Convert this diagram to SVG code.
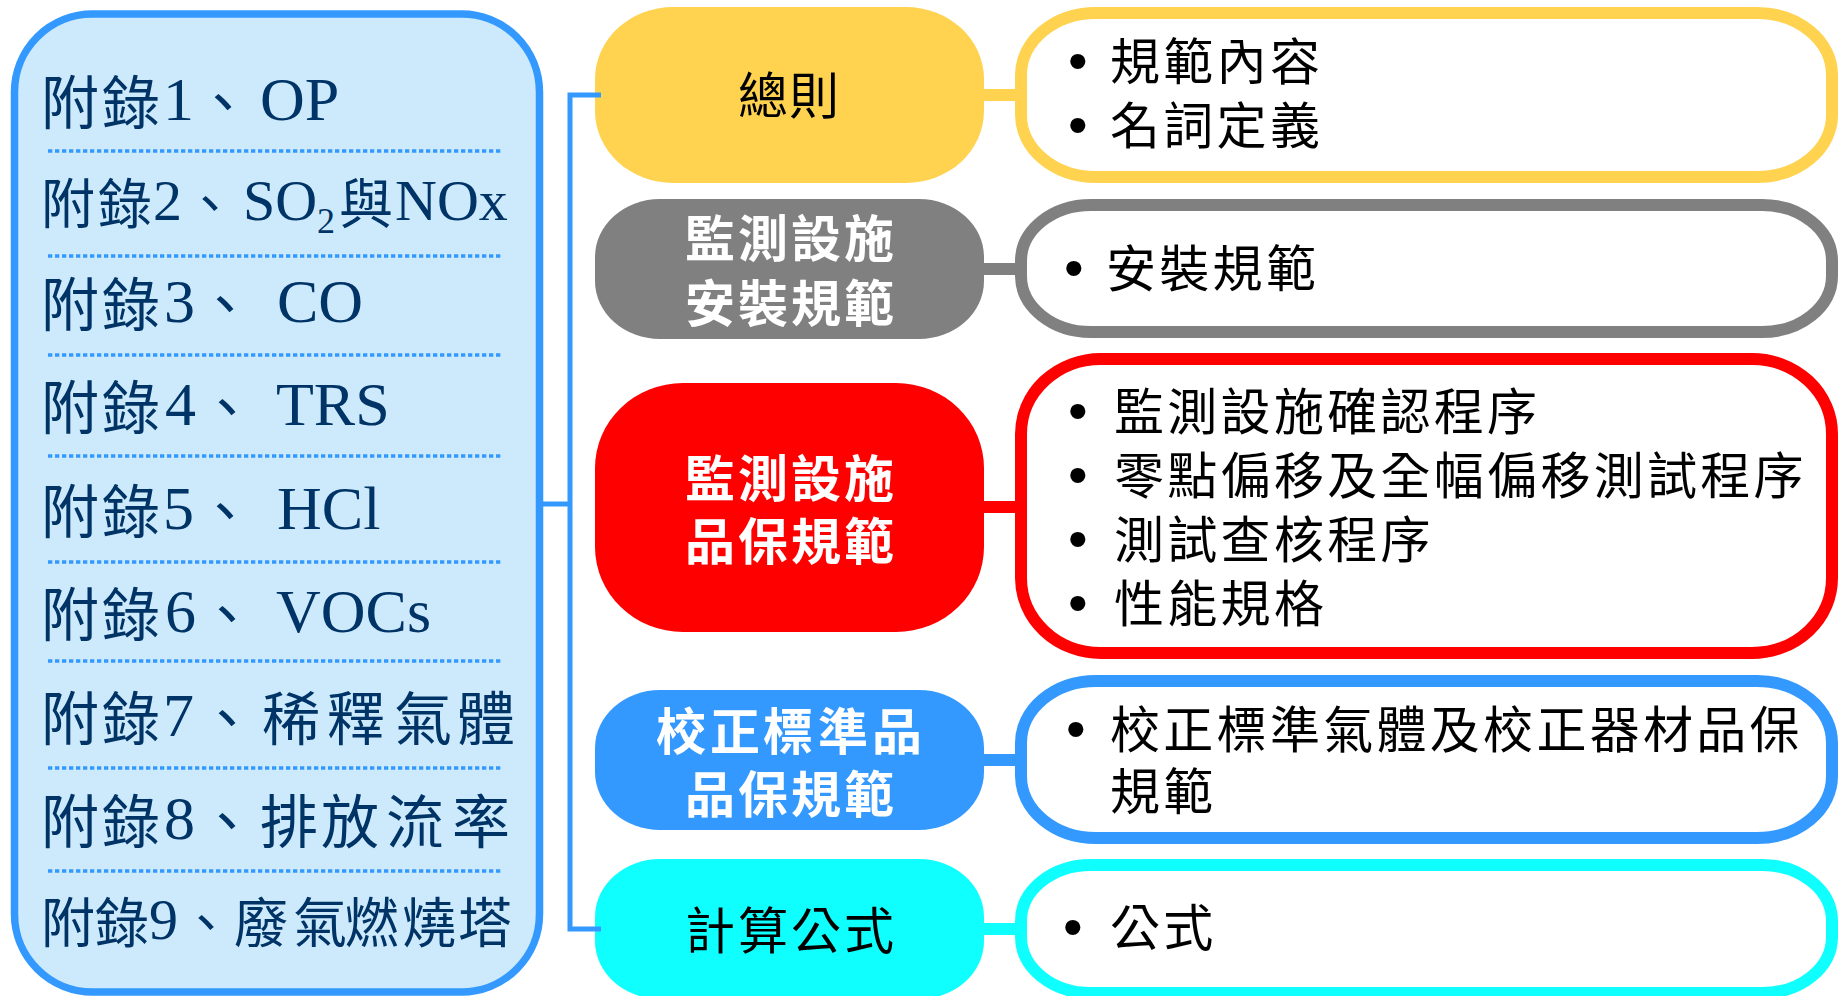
<svg xmlns="http://www.w3.org/2000/svg" width="1839" height="996" viewBox="0 0 1839 996">
<style>
.ap{font-family:"Liberation Serif","Noto Sans CJK TC",serif;font-size:58px;fill:#003366}
.c54{font-size:54px}
.lat{font-size:62px}
.l58{font-size:58px}
.sub{font-size:36px}
.pw{font-family:"Liberation Sans","Noto Sans CJK TC",sans-serif;font-size:50px;font-weight:700;fill:#ffffff}
.pb{font-family:"Liberation Sans","Noto Sans CJK TC",sans-serif;font-size:50px;font-weight:400;fill:#000000}
.rt{font-family:"Liberation Sans","Noto Sans CJK TC",sans-serif;font-size:50px;fill:#000000}
.ls{letter-spacing:3.3px}
.bl{font-family:"Liberation Sans",sans-serif;font-size:56px}
.dot{stroke:#3399FF;stroke-width:3.5;stroke-dasharray:4.3 2.7;fill:none}
.box{fill:#ffffff;stroke-width:12}
</style>

<g id="appendix-panel">
  <rect x="14.5" y="14" width="525" height="978" rx="78" ry="78" fill="#CCEAFC" stroke="#3399FF" stroke-width="7.5"/>
  <line class="dot" x1="48" y1="151" x2="502" y2="151"/>
  <line class="dot" x1="48" y1="256" x2="502" y2="256"/>
  <line class="dot" x1="48" y1="355" x2="502" y2="355"/>
  <line class="dot" x1="48" y1="456" x2="502" y2="456"/>
  <line class="dot" x1="48" y1="562" x2="502" y2="562"/>
  <line class="dot" x1="48" y1="661" x2="502" y2="661"/>
  <line class="dot" x1="48" y1="768" x2="502" y2="768"/>
  <line class="dot" x1="48" y1="871" x2="502" y2="871"/>
  <text class="ap" y="124"><tspan x="41 102">附錄</tspan><tspan class="lat" x="163" y="120">1</tspan><tspan x="194" y="124">、</tspan><tspan class="lat" x="260" y="120">OP</tspan></text>
  <text class="ap c54" y="224"><tspan x="41 98">附錄</tspan><tspan class="l58" x="153" y="220">2</tspan><tspan x="183" y="224">、</tspan><tspan class="l58" x="243" y="220">SO</tspan><tspan class="sub" x="317" y="233">2</tspan><tspan x="339" y="224">與</tspan><tspan class="l58" x="395" y="220">NOx</tspan></text>
  <text class="ap" y="326"><tspan x="41 102">附錄</tspan><tspan class="lat" x="164" y="322">3</tspan><tspan x="196" y="326">、 </tspan><tspan class="lat" x="277" y="322">CO</tspan></text>
  <text class="ap" y="429"><tspan x="41 102">附錄</tspan><tspan class="lat" x="165" y="425">4</tspan><tspan x="198" y="429">、 </tspan><tspan class="lat" x="276" y="425">TRS</tspan></text>
  <text class="ap" y="533"><tspan x="41 102">附錄</tspan><tspan class="lat" x="163" y="529">5</tspan><tspan x="196" y="533">、 </tspan><tspan class="lat" x="277" y="529">HCl</tspan></text>
  <text class="ap" y="636"><tspan x="41 102">附錄</tspan><tspan class="lat" x="165" y="632">6</tspan><tspan x="198" y="636">、 </tspan><tspan class="lat" x="276" y="632">VOCs</tspan></text>
  <text class="ap" y="740"><tspan x="41 102">附錄</tspan><tspan class="lat" x="163" y="736">7</tspan><tspan x="198" y="740">、</tspan><tspan x="262 327 394 457">稀釋氣體</tspan></text>
  <text class="ap" y="843"><tspan x="41 102">附錄</tspan><tspan class="lat" x="164" y="839">8</tspan><tspan x="198" y="843">、</tspan><tspan x="260 321 386 452">排放流率</tspan></text>
  <text class="ap c54" y="943"><tspan x="41 95">附錄</tspan><tspan class="l58" x="149" y="939">9</tspan><tspan x="179" y="943">、</tspan><tspan x="234 293 345 402 458">廢氣燃燒塔</tspan></text>
</g>

<g id="general">
  <rect x="595" y="7" width="389" height="176" rx="78" ry="72" fill="#FFD350"/>
  <text class="pb" y="114"><tspan x="738 789">總則</tspan></text>
</g>
<g id="general-detail">
  <rect class="box" x="1021" y="13" width="811" height="164" rx="75" ry="62" stroke="#FFD350"/>
  <text class="rt" y="80"><tspan class="bl" x="1068">•</tspan><tspan class="ls" x="1110">規範內容</tspan></text>
  <text class="rt" y="144"><tspan class="bl" x="1068">•</tspan><tspan class="ls" x="1110">名詞定義</tspan></text>
</g>

<g id="install">
  <rect x="595" y="199" width="389" height="140" rx="65" ry="58" fill="#808080"/>
  <text class="pw" y="257"><tspan x="685 738 791 844">監測設施</tspan></text>
  <text class="pw" y="322"><tspan x="685 738 791 844">安裝規範</tspan></text>
</g>
<g id="install-detail">
  <rect class="box" x="1021" y="205" width="811" height="127" rx="70" ry="56" stroke="#808080"/>
  <text class="rt" y="287"><tspan class="bl" x="1064">•</tspan><tspan class="ls" x="1106">安裝規範</tspan></text>
</g>

<g id="qa">
  <rect x="595" y="383" width="389" height="249" rx="88" ry="85" fill="#FF0000"/>
  <text class="pw" y="497"><tspan x="685 738 791 844">監測設施</tspan></text>
  <text class="pw" y="560"><tspan x="685 738 791 844">品保規範</tspan></text>
</g>
<g id="qa-detail">
  <rect class="box" x="1021" y="359" width="811" height="294" rx="80" ry="75" stroke="#FF0000"/>
  <text class="rt" y="430"><tspan class="bl" x="1068">•</tspan><tspan class="ls" x="1114">監測設施確認程序</tspan></text>
  <text class="rt" y="494"><tspan class="bl" x="1068">•</tspan><tspan class="ls" x="1114">零點偏移及全幅偏移測試程序</tspan></text>
  <text class="rt" y="558"><tspan class="bl" x="1068">•</tspan><tspan class="ls" x="1114">測試查核程序</tspan></text>
  <text class="rt" y="622"><tspan class="bl" x="1068">•</tspan><tspan class="ls" x="1114">性能規格</tspan></text>
</g>

<g id="calibration">
  <rect x="595" y="690" width="389" height="140" rx="65" ry="58" fill="#3399FF"/>
  <text class="pw" y="750"><tspan x="656 710 763 818 872">校正標準品</tspan></text>
  <text class="pw" y="813"><tspan x="685 738 791 844">品保規範</tspan></text>
</g>
<g id="calibration-detail">
  <rect class="box" x="1021" y="681" width="811" height="157" rx="75" ry="62" stroke="#3399FF"/>
  <text class="rt" y="748"><tspan class="bl" x="1066">•</tspan><tspan class="ls" x="1110">校正標準氣體及校正器材品保</tspan></text>
  <text class="rt" y="810"><tspan class="ls" x="1110">規範</tspan></text>
</g>

<g id="formula">
  <rect x="595" y="859" width="389" height="140" rx="65" ry="58" fill="#0FFFFF"/>
  <text class="pb" y="949"><tspan x="685 738 791 844">計算公式</tspan></text>
</g>
<g id="formula-detail">
  <rect class="box" x="1021" y="865" width="811" height="128" rx="70" ry="56" stroke="#0FFFFF"/>
  <text class="rt" y="946"><tspan class="bl" x="1063">•</tspan><tspan class="ls" x="1110">公式</tspan></text>
</g>

<g id="connectors" fill="none">
  <path d="M543 504 H570 M601 95 H570 V929 H601" stroke="#3399FF" stroke-width="5"/>
  <line x1="982" y1="95" x2="1017" y2="95" stroke="#FFD350" stroke-width="12"/>
  <line x1="982" y1="269" x2="1017" y2="269" stroke="#808080" stroke-width="12"/>
  <line x1="982" y1="507" x2="1017" y2="507" stroke="#FF0000" stroke-width="12"/>
  <line x1="982" y1="760" x2="1017" y2="760" stroke="#3399FF" stroke-width="12"/>
  <line x1="982" y1="929" x2="1017" y2="929" stroke="#0FFFFF" stroke-width="12"/>
</g>
</svg>
